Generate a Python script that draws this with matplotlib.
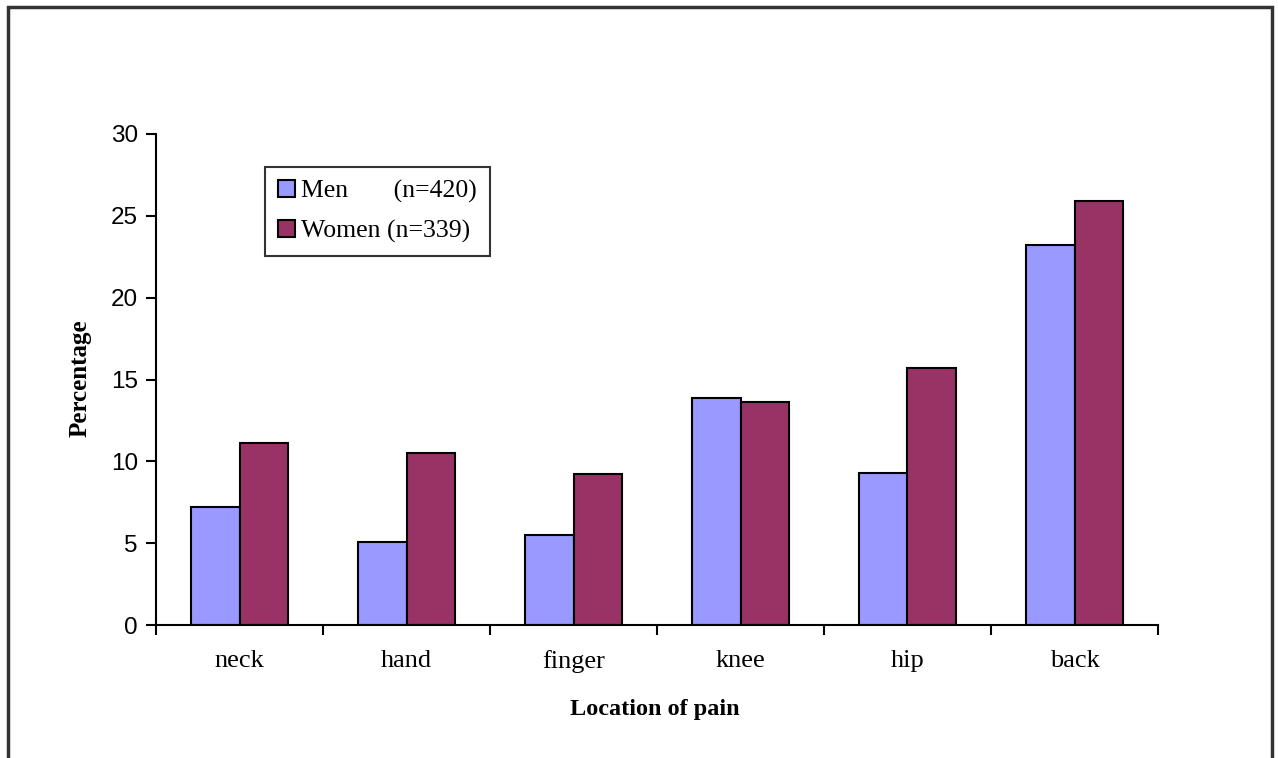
import matplotlib
matplotlib.use("Agg")
import matplotlib.pyplot as plt
import numpy as np
from matplotlib.patches import Rectangle

categories = ["neck", "hand", "finger", "knee", "hip", "back"]
men = [7.2, 5.1, 5.5, 13.9, 9.3, 23.2]
women = [11.1, 10.5, 9.2, 13.6, 15.7, 25.9]
series_labels = ["Men       (n=420)", "Women (n=339)"]
yticks = [0, 5, 10, 15, 20, 25, 30]

W, H = 1278, 758
fig = plt.figure(figsize=(W / 100, H / 100), dpi=100)

# outer frame
fig.patches.append(Rectangle((8 / W, -0.05), (1272 - 8) / W, 1.05 - 7 / H,
                             transform=fig.transFigure, fill=False,
                             edgecolor="#333333", linewidth=2.5, zorder=0))

ax = fig.add_axes([156 / W, 1 - 625 / H, (1158 - 156) / W, (625 - 134) / H])

x = np.arange(len(categories))
bw = 0.29
ax.bar(x - bw / 2, men, bw, color="#9999FF", edgecolor="black", linewidth=1.5,
       label=series_labels[0])
ax.bar(x + bw / 2, women, bw, color="#993366", edgecolor="black", linewidth=1.5,
       label=series_labels[1])

ax.set_xlim(-0.5, len(categories) - 0.5)
ax.set_ylim(0, 30)
ax.set_yticks(yticks)
ax.set_yticklabels([str(t) for t in yticks], fontfamily="Liberation Sans", fontsize=17.5)
ax.tick_params(axis="y", direction="out", length=7, width=1.5, pad=6)

ax.set_xticks(np.arange(len(categories) + 1) - 0.5)
ax.set_xticklabels([])
ax.tick_params(axis="x", direction="out", length=7, width=1.5)
for i, c in enumerate(categories):
    ax.text(i, -1.55, c, ha="center", va="top", fontfamily="Liberation Serif",
            fontsize=19, transform=ax.transData)

for s in ["top", "right"]:
    ax.spines[s].set_visible(False)
for s in ["left", "bottom"]:
    ax.spines[s].set_linewidth(1.5)

fig.text(655 / W, 1 - 710 / H, "Location of pain", ha="center", va="center",
         fontfamily="Liberation Serif", fontweight="bold", fontsize=17.5)
fig.text(80 / W, 1 - 378 / H, "Percentage", ha="center", va="center", rotation=90,
         fontfamily="Liberation Serif", fontweight="bold", fontsize=18)

leg = ax.legend(loc="upper left", bbox_to_anchor=((265 - 156) / (1158 - 156), (625 - 167) / (625 - 134)),
                prop={"family": "Liberation Serif", "size": 18.5}, frameon=True, fancybox=False,
                edgecolor="black", handlelength=0.65, handleheight=0.65, handletextpad=0.25,
                borderpad=0.5, labelspacing=0.65, borderaxespad=0)
leg.get_frame().set_linewidth(1.5)

fig.savefig("out.png", dpi=100)
